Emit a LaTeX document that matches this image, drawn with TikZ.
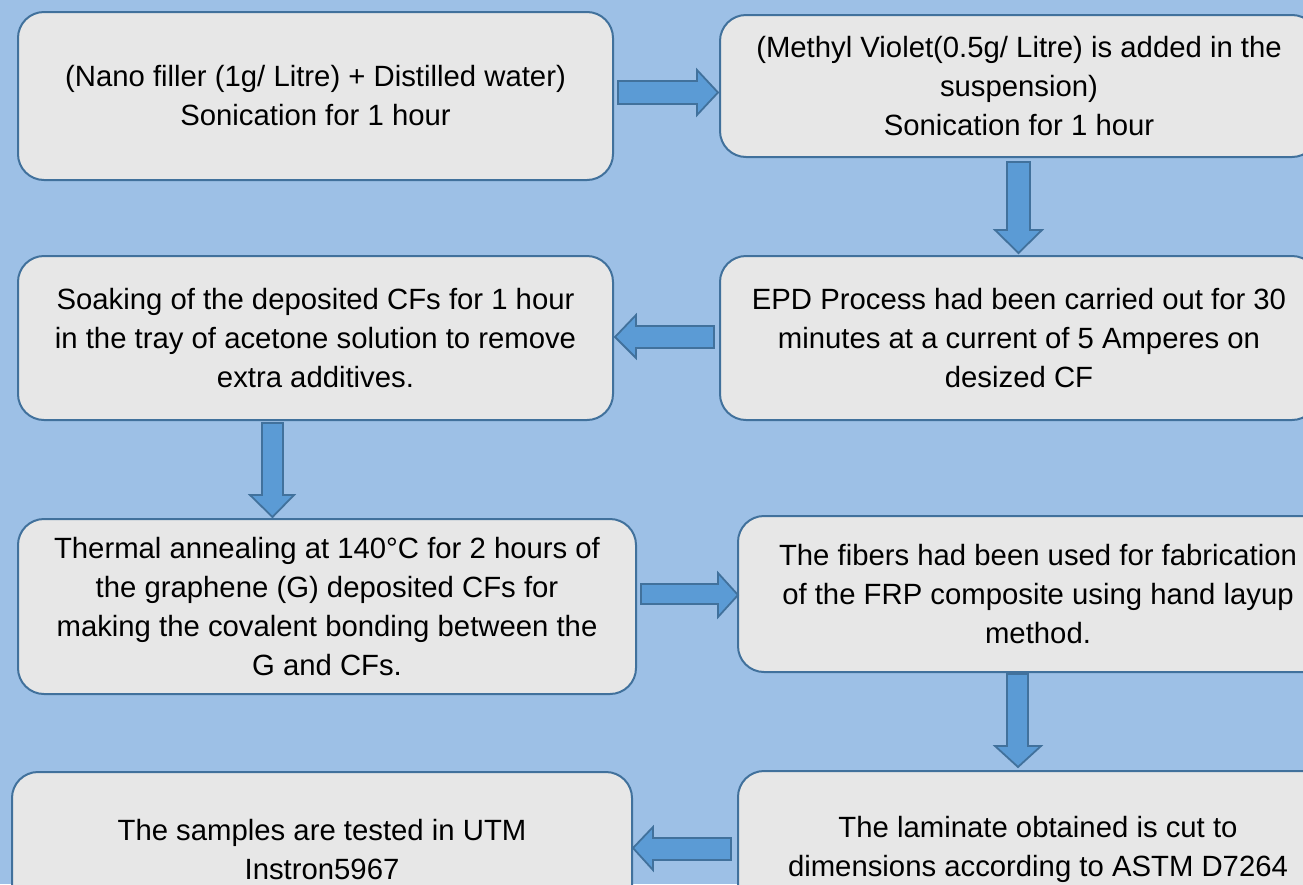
\documentclass[tikz,border=0pt]{standalone}
\usepackage{fontspec}
\setmainfont{Liberation Sans}
\definecolor{bg}{RGB}{157,192,230}
\definecolor{boxfill}{RGB}{231,231,231}
\definecolor{edge}{RGB}{65,113,156}
\definecolor{arrfill}{RGB}{91,155,213}
\tikzset{
  box/.style={draw=edge, line width=2pt, fill=boxfill, rounded corners=26pt,
    align=center, inner sep=0pt, font=\fontsize{29.3}{39}\selectfont},
  barrow/.style={draw=edge, fill=arrfill, line width=1.8pt, line join=miter}
}
\begin{document}
\begin{tikzpicture}[x=1pt,y=-1pt]
\useasboundingbox (0,0) rectangle (1303,884);
\fill[bg] (0,0) rectangle (1303,884);
\clip (0,0) rectangle (1303,884);

\node[box, minimum width=595pt, minimum height=168pt] (b1) at (315.5,96)
  {(Nano filler (1g/ Litre) + Distilled water)\\Sonication for 1 hour};
\node[box, minimum width=598pt, minimum height=142pt] (b2) at (1019,86)
  {(Methyl Violet(0.5g/ Litre) is added in the\\suspension)\\Sonication for 1 hour};
\node[box, minimum width=595pt, minimum height=164pt] (b3) at (315.5,338)
  {Soaking of the deposited CFs for 1 hour\\in the tray of acetone solution to remove\\extra additives.};
\node[box, minimum width=598pt, minimum height=164pt] (b4) at (1019,338)
  {EPD Process had been carried out for 30\\minutes at a current of 5 Amperes on\\desized CF};
\node[box, minimum width=618pt, minimum height=175pt] (b5) at (327,606.5)
  {Thermal annealing at 140°C for 2 hours of\\the graphene (G) deposited CFs for\\making the covalent bonding between the\\G and CFs.};
\node[box, minimum width=600pt, minimum height=156pt] (b6) at (1038,594)
  {The fibers had been used for fabrication\\of the FRP composite using hand layup\\method.};
\node[box, minimum width=620pt, minimum height=156pt] (b7) at (322,850)
  {The samples are tested in UTM\\Instron5967};
\node[box, minimum width=600pt, minimum height=156pt] (b8) at (1038,849)
  {The laminate obtained is cut to\\dimensions according to ASTM D7264};

% block arrows
\draw[barrow] (618,81) -- (697,81) -- (697,70) -- (718,92.5) -- (697,115) -- (697,104) -- (618,104) -- cycle;
\draw[barrow] (1007,162) -- (1030,162) -- (1030,230) -- (1042,230) -- (1018.5,253) -- (995,230) -- (1007,230) -- cycle;
\draw[barrow] (714,326) -- (636,326) -- (636,315) -- (615,337) -- (636,358) -- (636,348) -- (714,348) -- cycle;
\draw[barrow] (262,423) -- (283,423) -- (283,495) -- (294,495) -- (272.5,517) -- (250,495) -- (262,495) -- cycle;
\draw[barrow] (641,584) -- (718,584) -- (718,573) -- (738,595) -- (718,617) -- (718,604) -- (641,604) -- cycle;
\draw[barrow] (1007,674) -- (1028,674) -- (1028,746) -- (1041,746) -- (1018,767) -- (995,746) -- (1007,746) -- cycle;
\draw[barrow] (731,838) -- (653,838) -- (653,827) -- (633,848) -- (653,870) -- (653,860) -- (731,860) -- cycle;
\end{tikzpicture}
\end{document}
